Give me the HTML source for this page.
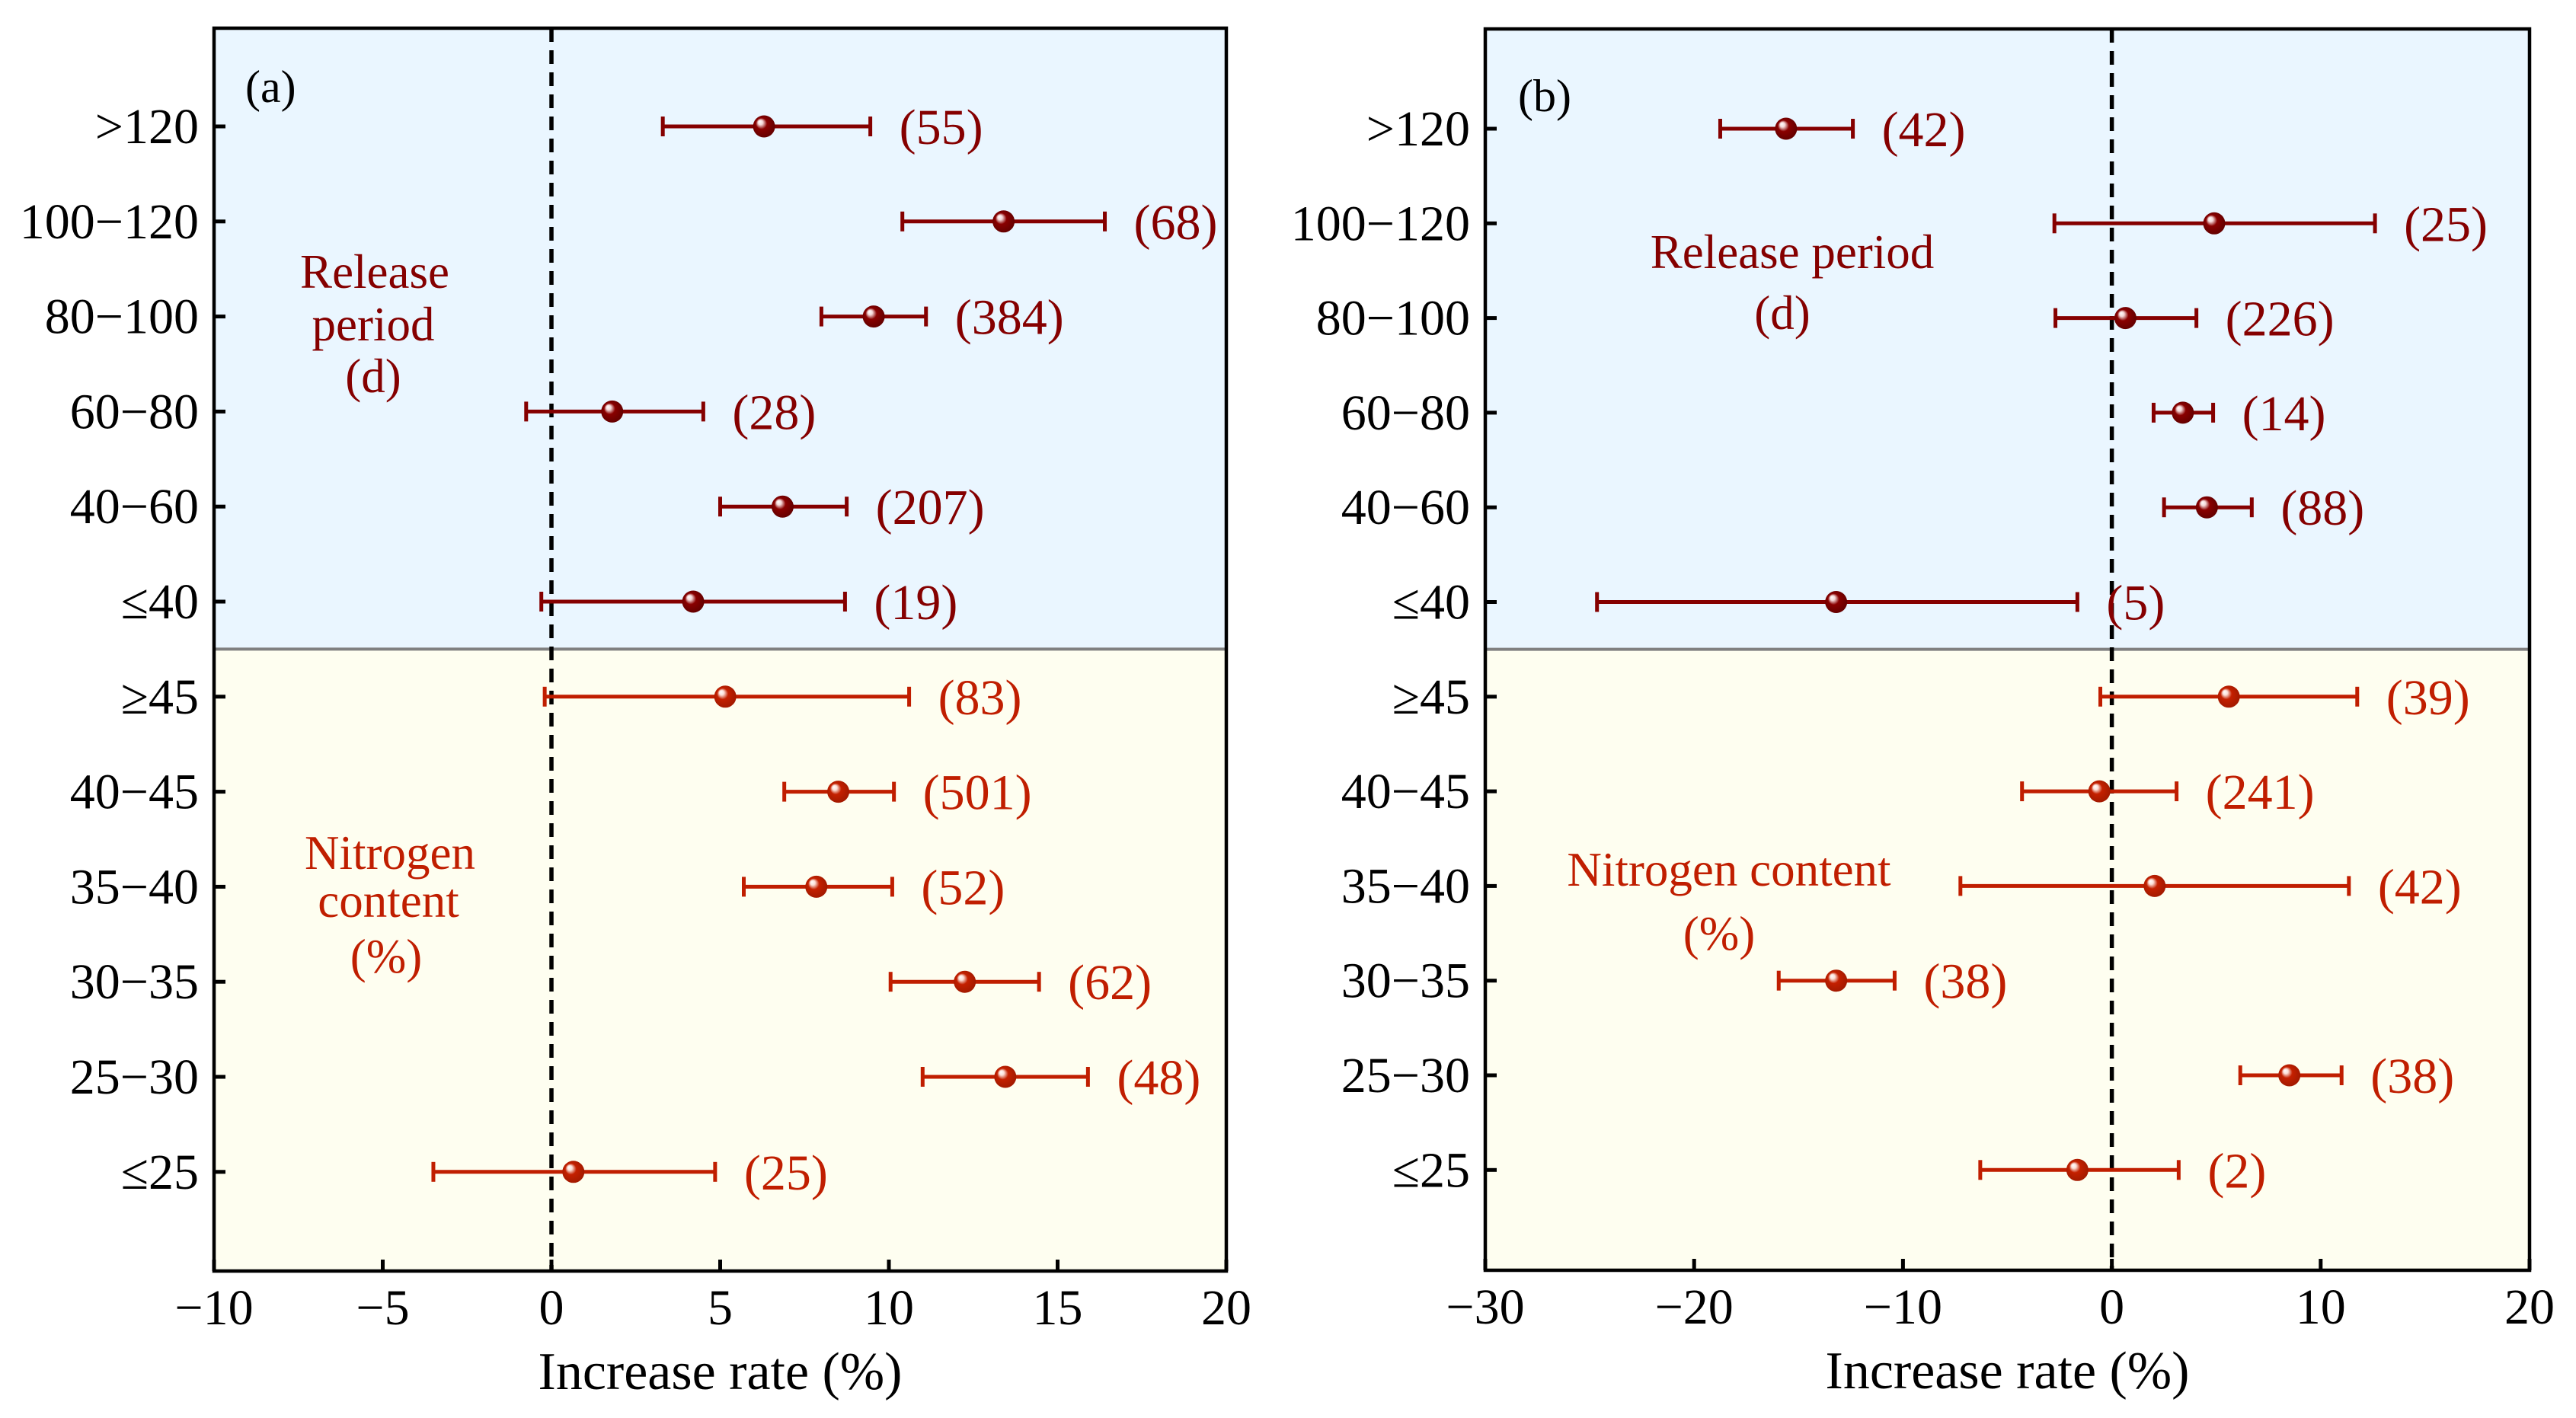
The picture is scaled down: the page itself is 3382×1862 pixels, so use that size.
<!DOCTYPE html>
<html><head><meta charset="utf-8"><style>
html,body{margin:0;padding:0;background:#fff}
svg{display:block}
text{font-family:"Liberation Serif",serif}
</style></head><body>
<svg id="chart" width="3382" height="1862" viewBox="0 0 3382 1862" xmlns="http://www.w3.org/2000/svg"></svg>
<script>
const categories = [">120","100\u2212120","80\u2212100","60\u221280","40\u221260","\u226440","\u226545","40\u221245","35\u221240","30\u221235","25\u221230","\u226425"];
const aMean = [6.3,13.4,9.55,1.8,6.85,4.2,5.15,8.5,7.85,12.25,13.45,0.65];
const aLow  = [3.3,10.4,8.0,-0.75,5.0,-0.3,-0.2,6.9,5.7,10.05,11.0,-3.5];
const aHigh = [9.45,16.4,11.1,4.5,8.75,8.7,10.6,10.15,10.1,14.45,15.9,4.85];
const aN    = ["(55)","(68)","(384)","(28)","(207)","(19)","(83)","(501)","(52)","(62)","(48)","(25)"];
const bMean = [-15.6,4.9,0.65,3.4,4.55,-13.2,5.6,-0.6,2.05,-13.2,8.5,-1.65];
const bLow  = [-18.75,-2.75,-2.7,2.0,2.5,-24.65,-0.55,-4.3,-7.25,-15.95,6.15,-6.3];
const bHigh = [-12.4,12.6,4.05,4.85,6.7,-1.65,11.75,3.1,11.35,-10.4,11.0,3.2];
const bN    = ["(42)","(25)","(226)","(14)","(88)","(5)","(39)","(241)","(42)","(38)","(38)","(2)"];
const aTicks = [-10,-5,0,5,10,15,20];
const bTicks = [-30,-20,-10,0,10,20];

const NS="http://www.w3.org/2000/svg";
const svg=document.getElementById('chart');
function mk(tag,attrs,parent,txt){const e=document.createElementNS(NS,tag);for(const k in attrs)e.setAttribute(k,attrs[k]);if(txt!==undefined)e.textContent=txt;(parent||svg).appendChild(e);return e;}
const defs=mk('defs',{});
[['gDark','#f4d8d8','#8a0000','#5a0000'],['gRed','#fbe0d8','#c42000','#9a1800']].forEach(g=>{
  const rg=mk('radialGradient',{id:g[0],cx:'0.5',cy:'0.5',r:'0.6',fx:'0.3',fy:'0.28'},defs);
  mk('stop',{offset:'0',  'stop-color':'#ffffff'},rg);
  mk('stop',{offset:'0.18','stop-color':g[1]},rg);
  mk('stop',{offset:'0.42','stop-color':g[2]},rg);
  mk('stop',{offset:'1','stop-color':g[3]},rg);
});

function panel(p){
  const g=mk('g',{});
  
  
  const L=p.left,R=p.right,T=p.top,B=p.bottom;
  const xs=v=>L+(v-p.xmin)/(p.xmax-p.xmin)*(R-L);
  const ys=i=>p.row0+i*p.step;
  const sep=(ys(5)+ys(6))/2;
  const bg1=mk('rect',{x:L,y:T,width:R-L,height:sep-T,fill:'#eaf6ff'},g);
  
  
  const bg2=mk('rect',{x:L,y:sep,width:R-L,height:B-sep,fill:'#fefef0'},g);
  
  
  const sl=mk('line',{x1:L,x2:R,y1:sep,y2:sep,stroke:'#808080','stroke-width':4},g);
  
  
  const zl=mk('line',{x1:xs(0),x2:xs(0),y1:T,y2:B,stroke:'#000','stroke-width':5.5,'stroke-dasharray':'18 11'},g);
  
  
  p.groupLabels.forEach(gl=>{
    const t=mk('text',{x:gl.x,y:gl.y,'text-anchor':'middle','font-size':63,fill:gl.c},g,gl.t);
    
    
  });
  const pl=mk('text',{x:p.tagX,y:p.tagY,'font-size':60,fill:'#000'},g,p.tag);
  
  
  for(let i=0;i<categories.length;i++){
    const dark=i<6, col=dark?'#850000':'#c01e00';
    const y=ys(i);
    const eg=mk('g',{},g);
    
    
    const el=mk('line',{x1:xs(p.low[i]),x2:xs(p.high[i]),y1:y,y2:y,stroke:col,'stroke-width':5},eg);
    
    
    [p.low[i],p.high[i]].forEach(v=>{
      const c=mk('line',{x1:xs(v),x2:xs(v),y1:y-13,y2:y+13,stroke:col,'stroke-width':5},eg);
      
      
    });
    const pt=mk('circle',{cx:xs(p.mean[i]),cy:y,r:14.5,fill:'url(#'+(dark?'gDark':'gRed')+')'},eg);
    
    
    const nt=mk('text',{x:xs(p.high[i])+38,y:y+23,'font-size':66,fill:col},eg,p.n[i]);
    
    
    const tk=mk('line',{x1:L,x2:L+15,y1:y,y2:y,stroke:'#000','stroke-width':5},g);
    
    
    const tl=mk('text',{x:L-20,y:y+22,'text-anchor':'end','font-size':66,fill:'#000'},g,categories[i]);
    
    
  }
  p.ticks.forEach(v=>{
    const tk=mk('line',{x1:xs(v),x2:xs(v),y1:B,y2:B-15,stroke:'#000','stroke-width':5},g);
    
    
    const tl=mk('text',{x:xs(v),y:B+70,'text-anchor':'middle','font-size':66,fill:'#000'},g,v<0?'\u2212'+(-v):String(v));
    
    
  });
  const fr=mk('rect',{x:L,y:T,width:R-L,height:B-T,fill:'none',stroke:'#000','stroke-width':4.5},g);
  
  
  const xt=mk('text',{x:(L+R)/2,y:B+155,'text-anchor':'middle','font-size':70,fill:'#000'},g,'Increase rate (%)');
  
  
}

panel({name:'panel-a',left:281,right:1610,top:37,bottom:1669,xmin:-10,xmax:20,row0:166,step:124.8,
  mean:aMean,low:aLow,high:aHigh,n:aN,ticks:aTicks,tag:'(a)',tagX:322,tagY:134,
  groupLabels:[
    {t:'Release',x:492,y:378,c:'#850000',n:'release-period-label'},
    {t:'period',x:490,y:447,c:'#850000',n:'release-period-label'},
    {t:'(d)',x:490,y:515,c:'#850000',n:'release-period-label'},
    {t:'Nitrogen',x:512,y:1141,c:'#c01e00',n:'nitrogen-content-label'},
    {t:'content',x:510,y:1204,c:'#c01e00',n:'nitrogen-content-label'},
    {t:'(%)',x:507,y:1277,c:'#c01e00',n:'nitrogen-content-label'}
  ]});
panel({name:'panel-b',left:1950,right:3321,top:38,bottom:1668,xmin:-30,xmax:20,row0:169,step:124.3,
  mean:bMean,low:bLow,high:bHigh,n:bN,ticks:bTicks,tag:'(b)',tagX:1993,tagY:146,
  groupLabels:[
    {t:'Release period',x:2353,y:352,c:'#850000',n:'release-period-label'},
    {t:'(d)',x:2340,y:432,c:'#850000',n:'release-period-label'},
    {t:'Nitrogen content',x:2270,y:1163,c:'#c01e00',n:'nitrogen-content-label'},
    {t:'(%)',x:2257,y:1247,c:'#c01e00',n:'nitrogen-content-label'}
  ]});
</script>
</body></html>
